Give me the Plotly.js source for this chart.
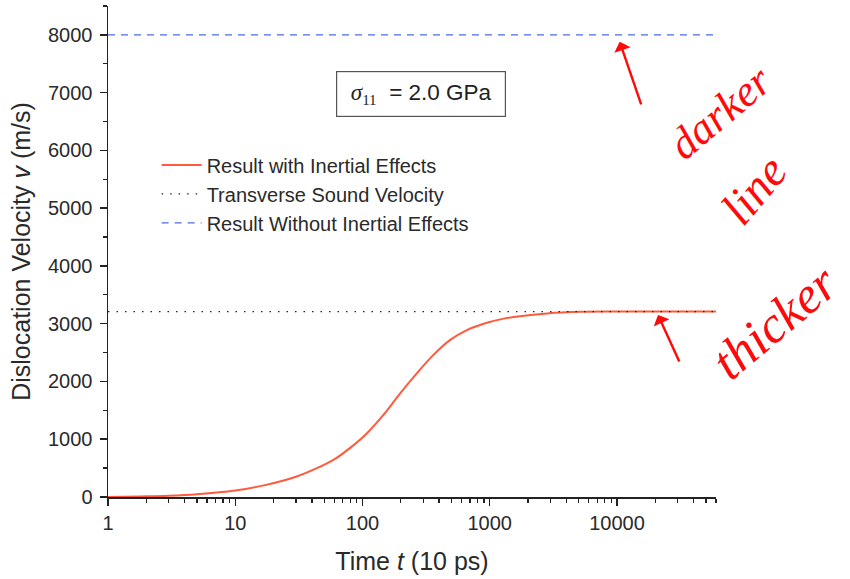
<!DOCTYPE html>
<html>
<head>
<meta charset="utf-8">
<script src="https://cdn.plot.ly/plotly-3.0.1.min.js"></script>
<style>
  html, body { margin: 0; padding: 0; background: #fff; }
  #chart { width: 850px; height: 579px; }
</style>
</head>
<body>
<div id="chart"></div>
<script>
// Dislocation velocity vs. time (log time axis)
const timeSteps = [1, 1.8, 3, 5, 10, 17.5, 30, 46, 60, 80, 108, 146, 197, 267, 361, 489, 661, 895, 1210, 1545, 2830, 5200, 10000, 60000];
const velocityInertial = [0, 10, 22, 48, 112, 210, 350, 520, 650, 850, 1100, 1420, 1790, 2140, 2460, 2720, 2890, 3000, 3075, 3115, 3178, 3205, 3210, 3212];
const soundVelocity = 3210;
const velocityNoInertia = 8000;
const xRange = [1, 60000];
const xTickVals = [1, 10, 100, 1000, 10000];
const xTickText = ["1", "10", "100", "1000", "10000"];
const xMinorVals = [];
for (let d = 1; d <= 10000; d *= 10) {
  for (let m = 2; m <= 9; m++) {
    if (m * d <= 60000) xMinorVals.push(m * d);
  }
}
const yTickVals = [0, 1000, 2000, 3000, 4000, 5000, 6000, 7000, 8000];

const traces = [
  {
    x: timeSteps, y: velocityInertial, mode: "lines", name: "Result with Inertial Effects",
    line: { color: "#ff5a3c", width: 2, shape: "spline", smoothing: 1 }
  },
  {
    x: xRange, y: [soundVelocity, soundVelocity], mode: "lines", name: "Transverse Sound Velocity",
    line: { color: "#222222", width: 1.2, dash: "1.5px,7px" }
  },
  {
    x: xRange, y: [velocityNoInertia, velocityNoInertia], mode: "lines", name: "Result Without Inertial Effects",
    line: { color: "#4a6ee0", width: 1.3, dash: "7px,6px" }
  }
];

// plot-area pixel helpers for paper-referenced notes
const PL = 108, PW = 608, PT = 6, PH = 491;
const px = v => (v - PL) / PW;
const py = v => (PT + PH - v) / PH;

const sans = "Liberation Sans, Arial, sans-serif";
const axisFont = { family: sans, size: 20, color: "#2a2a2a" };
const titleFont = { family: sans, size: 25, color: "#2a2a2a" };
const hand = size => ({ family: "Liberation Serif, serif", size: size, color: "#ff0a0a" });

const layout = {
  width: 850, height: 579,
  margin: { l: 108, r: 134, t: 6, b: 82 },
  paper_bgcolor: "#ffffff", plot_bgcolor: "#ffffff",
  showlegend: true,
  legend: {
    x: 0.08, y: 0.716, xanchor: "left", yanchor: "top",
    bgcolor: "rgba(0,0,0,0)", borderwidth: 0,
    font: { family: sans, size: 20, color: "#2a2a2a" },
    tracegroupgap: 0, itemwidth: 40
  },
  xaxis: {
    type: "log", range: [Math.log10(xRange[0]), Math.log10(xRange[1])],
    tickmode: "array", tickvals: xTickVals, ticktext: xTickText,
    ticks: "outside", ticklen: 7, tickwidth: 1.5, tickcolor: "#222",
    minor: { tickmode: "array", tickvals: xMinorVals, ticks: "outside", ticklen: 4, tickwidth: 1.3, tickcolor: "#222" },
    showline: true, linecolor: "#222", linewidth: 1.5, showgrid: false, zeroline: false,
    tickfont: axisFont, automargin: false,
    title: { text: "Time <i>t</i> (10 ps)", font: titleFont, standoff: 20 }
  },
  yaxis: {
    range: [0, 8500],
    tickmode: "array", tickvals: yTickVals,
    ticks: "outside", ticklen: 7, tickwidth: 1.5, tickcolor: "#222",
    ticklabelstandoff: 3,
    minor: { dtick: 500, ticks: "outside", ticklen: 4, tickwidth: 1.3, tickcolor: "#222" },
    showline: true, linecolor: "#222", linewidth: 1.5, showgrid: false, zeroline: false,
    tickfont: axisFont, automargin: false,
    title: { text: "Dislocation Velocity <i>v</i> (m/s)", font: titleFont, standoff: 10 }
  },
  annotations: [
    {
      xref: "paper", yref: "paper", x: px(420.5), y: py(94),
      xanchor: "center", yanchor: "middle", showarrow: false,
      text: "<span style=\"font-family:'Liberation Serif',serif;font-style:italic;font-size:23px\">σ</span><sub><span style=\"font-family:'Liberation Serif',serif;font-size:15px\">11</span></sub>  = 2.0 GPa",
      font: { family: sans, size: 22.5, color: "#222" },
      bordercolor: "#555", borderwidth: 1.2, borderpad: 0, bgcolor: "#fff",
      width: 168, height: 44
    },
    {
      xref: "paper", yref: "paper", x: px(720), y: py(112), xanchor: "center", yanchor: "middle",
      showarrow: false, text: "<i>darker</i>", textangle: -40, font: hand(44)
    },
    {
      xref: "paper", yref: "paper", x: px(754), y: py(190), xanchor: "center", yanchor: "middle",
      showarrow: false, text: "<i>line</i>", textangle: -50, font: hand(48)
    },
    {
      xref: "paper", yref: "paper", x: px(774), y: py(322), xanchor: "center", yanchor: "middle",
      showarrow: false, text: "<i>thicker</i>", textangle: -40, font: hand(52)
    },
    {
      x: Math.log10(10500), y: velocityNoInertia - 120, xref: "x", yref: "y",
      ax: 22, ay: 64, showarrow: true, arrowhead: 1, arrowsize: 1.2, arrowwidth: 2.4,
      arrowcolor: "#ff0a0a", text: ""
    },
    {
      x: Math.log10(21000), y: soundVelocity - 60, xref: "x", yref: "y",
      ax: 22, ay: 48, showarrow: true, arrowhead: 1, arrowsize: 1.2, arrowwidth: 2.4,
      arrowcolor: "#ff0a0a", text: ""
    }
  ]
};

Plotly.newPlot("chart", traces, layout, { displayModeBar: false, staticPlot: true });
</script>
</body>
</html>
